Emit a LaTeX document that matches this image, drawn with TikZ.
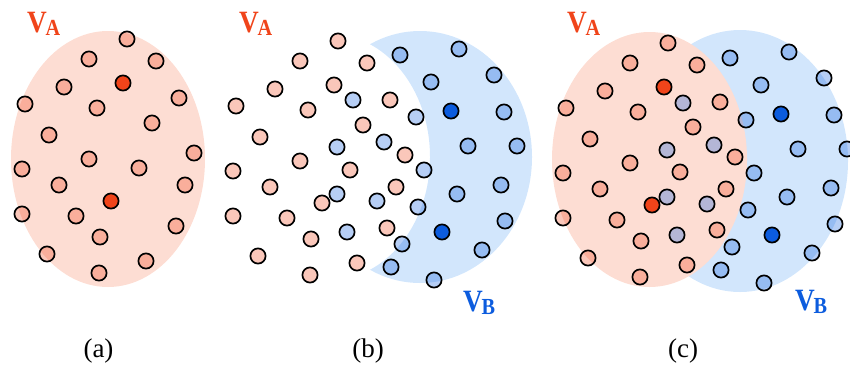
\documentclass[tikz,border=0pt]{standalone}
\usepackage{fontspec}
\usepackage{graphicx}
\setmainfont{Liberation Serif}
\definecolor{ColA}{RGB}{240,68,26}
\definecolor{ColB}{RGB}{12,92,222}
\definecolor{PinkBg}{RGB}{253,221,211}
\definecolor{BlueBg}{RGB}{210,230,252}
\newcommand{\vlabel}[1]{\scalebox{0.88}[1]{\bfseries\fontsize{31}{31}\selectfont V\kern-1.5pt\raisebox{-3pt}{\fontsize{23}{23}\selectfont #1}}}
\tikzset{
  dotbase/.style={circle, draw=black, line width=1.7pt, minimum size=15.2pt, inner sep=0pt},
  pdot/.style={dotbase, fill=ColA, fill opacity=0.3},
  rdot/.style={dotbase, fill=ColA},
  bdot/.style={dotbase, fill=ColB, fill opacity=0.3},
  ddot/.style={dotbase, fill=ColB},
  vlab/.style={anchor=base west, inner sep=0pt},
  captext/.style={anchor=base, inner sep=0pt, font=\fontsize{27}{27}\selectfont},
}
\begin{document}
\begin{tikzpicture}[x=1pt, y=-1pt]
\useasboundingbox (0,0) rectangle (850,365);
% ---------- panel (a)
\fill[PinkBg] (108,159) ellipse [x radius=97pt, y radius=128pt];
\foreach \x/\y/\s [count=\i] in {127/39/p, 89/59/p, 156/61/p, 123/83/r, 64/87/p, 179/98/p, 25/104/p, 97/108/p, 152/123/p, 49/135/p, 194/153/p, 89/159/p, 22/169/p, 139/168/p, 59/185/p, 185/185/p, 111/201/r, 22/214/p, 76/216/p, 176/226/p, 100/237/p, 47/254/p, 146/261/p, 99/273/p}
  \node[\s dot] (a-\i) at (\x,\y) {};
\node[vlab, text=ColA] (la) at (27,32) {\vlabel{A}};
\node[captext] (capa) at (98.5,357.5) {(a)};
% ---------- panel (b)
\begin{scope}
  \clip (420,157) ellipse [x radius=112pt, y radius=126pt];
  \fill[BlueBg, even odd rule] (290,20) rectangle (545,300) (330,157) ellipse [x radius=100pt, y radius=123pt];
\end{scope}
\begin{scope}[shift={(211,2)}]
\foreach \x/\y/\s [count=\i] in {127/39/p, 89/59/p, 156/61/p, 123/83/r, 64/87/p, 179/98/p, 25/104/p, 97/108/p, 152/123/p, 49/135/p, 194/153/p, 89/159/p, 22/169/p, 139/168/p, 59/185/p, 185/185/p, 111/201/r, 22/214/p, 76/216/p, 176/226/p, 100/237/p, 47/254/p, 146/261/p, 99/273/p}
  \node[pdot] (ba-\i) at (\x,\y) {};
\end{scope}
\foreach \x/\y/\s [count=\i] in {400/55/b, 459/49/b, 494/75/b, 431/82/b, 353/100/b, 451/111/d, 504/112/b, 416/117/b, 384/142/b, 337/147/b, 468/146/b, 517/146/b, 424/170/b, 501/185/b, 337/194/b, 457/194/b, 377/201/b, 418/207/b, 505/221/b, 442/232/d, 347/232/b, 402/244/b, 482/250/b, 391/267/b, 434/280/b}
  \node[\s dot] (bb-\i) at (\x,\y) {};
\node[vlab, text=ColA] (lba) at (239,32) {\vlabel{A}};
\node[vlab, text=ColB] (lbb) at (463,311) {\vlabel{B}};
\node[captext] (capb) at (368,357.5) {(b)};
% ---------- panel (c)
\fill[BlueBg] (740,161) ellipse [x radius=108pt, y radius=131pt];
\fill[PinkBg] (649.5,159.5) ellipse [x radius=97.5pt, y radius=127.5pt];
\begin{scope}[shift={(541,4)}]
\foreach \x/\y/\s [count=\i] in {127/39/p, 89/59/p, 156/61/p, 123/83/r, 64/87/p, 179/98/p, 25/104/p, 97/108/p, 152/123/p, 49/135/p, 194/153/p, 89/159/p, 22/169/p, 139/168/p, 59/185/p, 185/185/p, 111/201/r, 22/214/p, 76/216/p, 176/226/p, 100/237/p, 47/254/p, 146/261/p, 99/273/p}
  \node[\s dot] (ca-\i) at (\x,\y) {};
\end{scope}
\begin{scope}[shift={(330,3)}]
\foreach \x/\y/\s [count=\i] in {400/55/b, 459/49/b, 494/75/b, 431/82/b, 353/100/b, 451/111/d, 504/112/b, 416/117/b, 384/142/b, 337/147/b, 468/146/b, 517/146/b, 424/170/b, 501/185/b, 337/194/b, 457/194/b, 377/201/b, 418/207/b, 505/221/b, 442/232/d, 347/232/b, 402/244/b, 482/250/b, 391/267/b, 434/280/b}
  \node[\s dot] (cb-\i) at (\x,\y) {};
\end{scope}
\node[vlab, text=ColA] (lca) at (567,32) {\vlabel{A}};
\node[vlab, text=ColB] (lcb) at (795,310) {\vlabel{B}};
\node[captext] (capc) at (683,357.5) {(c)};
\end{tikzpicture}
\end{document}
